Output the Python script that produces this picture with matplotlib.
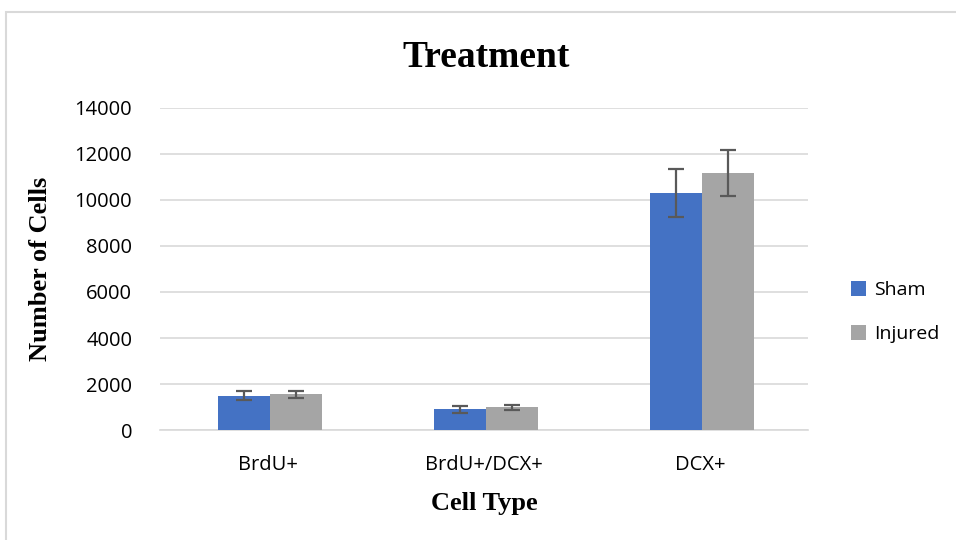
import numpy as np
import matplotlib.pyplot as plt
from matplotlib.patches import Rectangle

# values
categories = ['BrdU+', 'BrdU+/DCX+', 'DCX+']
sham = [1500, 900, 10300]
sham_err = [200, 160, 1050]
injured = [1560, 990, 11170]
injured_err = [150, 115, 1000]
yticks = [0, 2000, 4000, 6000, 8000, 10000, 12000, 14000]

serif = 'Liberation Serif'
sans = 'Open Sans'

fig = plt.figure(figsize=(9.56, 5.4), dpi=100)
ax = fig.add_axes([160/956, 1 - 430/540, 648/956, 322/540])

x = np.arange(len(categories))
w = 0.24
err_kw = dict(ecolor='#595959', elinewidth=1.6, capsize=6, capthick=1.6)
ax.bar(x - w/2 + 0.01, sham, w, yerr=sham_err, color='#4472c4', label='Sham',
       error_kw=err_kw, zorder=3)
ax.bar(x + w/2 + 0.01, injured, w, yerr=injured_err, color='#a5a5a5', label='Injured',
       error_kw=err_kw, zorder=3)

ax.set_xlim(-0.5, 2.5)
ax.set_ylim(0, 14000)
ax.set_yticks(yticks)
ax.set_xticks(x)
ax.set_xticklabels(categories)
ax.yaxis.grid(True, color='#d9d9d9', linewidth=1.2, zorder=0)
for s in ['top', 'right', 'left']:
    ax.spines[s].set_visible(False)
ax.spines['bottom'].set_color('#d9d9d9')
ax.spines['bottom'].set_linewidth(1.2)
ax.tick_params(length=0, labelsize=14.5, colors='black')
for lab in ax.get_xticklabels() + ax.get_yticklabels():
    lab.set_family(sans)
ax.tick_params(axis='y', pad=20)
ax.tick_params(axis='x', pad=18)

ax.set_ylabel('Number of Cells', fontsize=19, fontweight='bold', family=serif, labelpad=16)
ax.set_xlabel('Cell Type', fontsize=19, fontweight='bold', family=serif, labelpad=12)
fig.text(0.509, 0.893, 'Treatment', ha='center', va='center', fontsize=27,
         fontweight='bold', family=serif)

leg = fig.legend(loc='center left', bbox_to_anchor=(833/956, 1 - 312/540), frameon=False,
                 prop={'family': sans, 'size': 14}, handlelength=0.8, handleheight=0.8,
                 labelspacing=1.3, handletextpad=0.4)

# chart-area border (only top and left show in the crop)
fig.patches.append(Rectangle((6/956, -0.1), 1.2, 1 - 12/540 + 0.1, transform=fig.transFigure,
                             fill=False, edgecolor='#d9d9d9', linewidth=1.5))

fig.savefig('out.png', dpi=100)
